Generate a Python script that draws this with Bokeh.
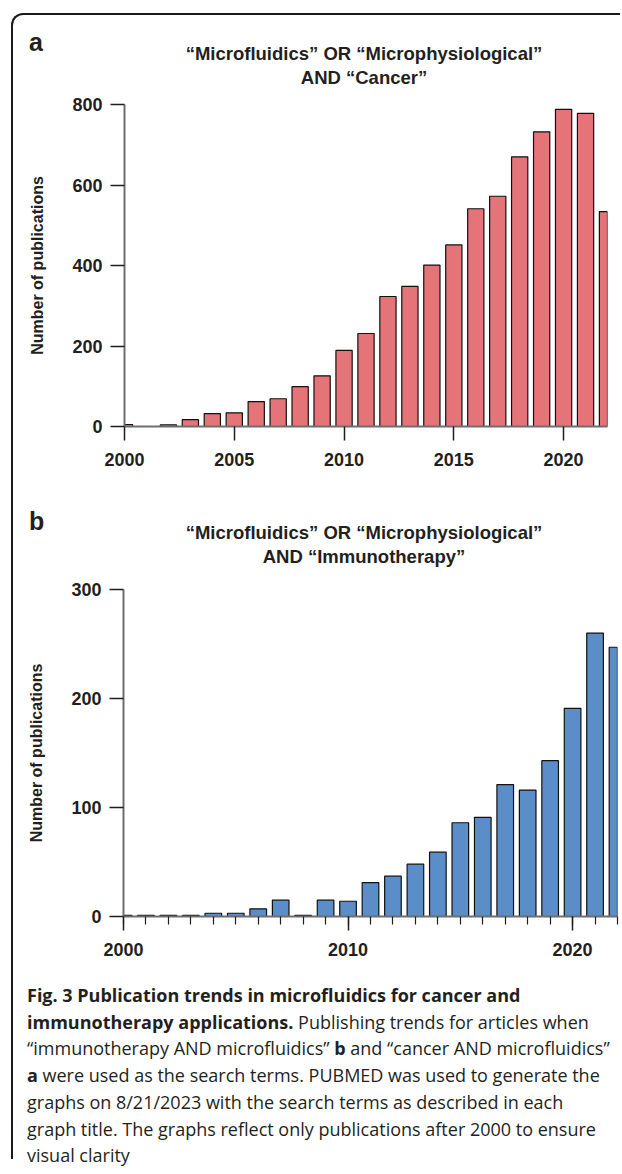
from bokeh.plotting import figure
from bokeh.models import Range1d, Div, FixedTicker
from bokeh.layouts import column
from bokeh.embed import file_html
from bokeh.resources import INLINE

# ---------------- data ----------------
years = list(range(2000, 2023))
cancer_counts = [5, 0, 4, 17, 32, 34, 62, 69, 99, 126, 189, 231, 323, 348, 401,
                 451, 541, 572, 670, 732, 788, 778, 534]
immuno_counts = [1, 1, 1, 1, 3, 3, 7, 15, 1, 15, 14, 31, 37, 48, 59,
                 86, 91, 121, 116, 143, 191, 260, 247]
a_xticks = [2000, 2005, 2010, 2015, 2020]
a_yticks = [0, 200, 400, 600, 800]
b_xticks = [2000, 2010, 2020]
b_yticks = [0, 100, 200, 300]
title_a = ["\u201cMicrofluidics\u201d OR \u201cMicrophysiological\u201d", "AND \u201cCancer\u201d"]
title_b = ["\u201cMicrofluidics\u201d OR \u201cMicrophysiological\u201d", "AND \u201cImmunotherapy\u201d"]
ylabel = "Number of publications"

FONT = "Liberation Sans"
RED = "#E57478"
BLUE = "#5B8EC8"
INK = "#231f20"


def style_axes(p):
    for ax in (p.xaxis[0], p.yaxis[0]):
        ax.axis_line_color = "#6e6e6e"
        ax.axis_line_width = 2
        ax.major_tick_line_color = "#1e1e1e"
        ax.major_tick_line_width = 1.5
        ax.major_tick_out = 14
        ax.major_tick_in = 0
        ax.major_label_text_font = FONT
        ax.major_label_text_font_style = "bold"
        ax.major_label_text_font_size = "18px"
        ax.major_label_text_color = INK
    p.yaxis[0].minor_tick_line_color = None
    p.yaxis[0].major_label_standoff = 8
    p.xaxis[0].major_label_standoff = 12
    p.yaxis[0].axis_label = ylabel
    p.yaxis[0].axis_label_text_font = FONT
    p.yaxis[0].axis_label_text_font_style = "bold"
    p.yaxis[0].axis_label_text_font_size = "16px"
    p.yaxis[0].axis_label_text_color = INK
    p.yaxis[0].axis_label_standoff = 23
    p.xgrid.grid_line_color = None
    p.ygrid.grid_line_color = None
    p.outline_line_color = None


def header(letter, lines, h, letter_top, line_top):
    html = (
        f'<div style="position:relative;width:607px;height:{h}px;'
        f'font-family:\'Liberation Sans\',Arial,sans-serif;font-weight:bold;color:{INK};">'
        f'<div style="position:absolute;left:16px;top:{letter_top}px;font-size:25px;'
        f'line-height:25px;">{letter}</div>'
        f'<div style="position:absolute;left:51px;top:{line_top}px;width:600px;text-align:center;'
        f'font-size:18.5px;line-height:24px;white-space:nowrap;">{lines[0]}<br>{lines[1]}</div>'
        f'</div>'
    )
    return Div(text=html, width=607, height=h, margin=0)


# ---------------- chart a ----------------
head_a = header("a", title_a, 79, 15, 27)
pa = figure(width=607, height=395, x_range=Range1d(2000, 2022), y_range=Range1d(0, 800),
            output_backend="svg", toolbar_location=None,
            min_border_left=111, min_border_right=13, min_border_top=10, min_border_bottom=63)
pa.vbar(x=years, top=cancer_counts, width=0.74, fill_color=RED, line_color="#111111", line_width=1.2)
style_axes(pa)
pa.xaxis[0].ticker = FixedTicker(ticks=a_xticks)
pa.yaxis[0].ticker = FixedTicker(ticks=a_yticks)

# ---------------- chart b ----------------
head_b = header("b", title_b, 90, 20, 32)
pb = figure(width=607, height=390, x_range=Range1d(2000, 2022), y_range=Range1d(0, 300),
            output_backend="svg", toolbar_location=None,
            min_border_left=110, min_border_right=3, min_border_top=10, min_border_bottom=53)
pb.vbar(x=years, top=immuno_counts, width=0.74, fill_color=BLUE, line_color="#111111", line_width=1.2)
style_axes(pb)
pb.xaxis[0].ticker = FixedTicker(ticks=b_xticks, minor_ticks=years)
pb.xaxis[0].minor_tick_line_color = "#1e1e1e"
pb.xaxis[0].minor_tick_line_width = 1.2
pb.xaxis[0].minor_tick_out = 8
pb.xaxis[0].minor_tick_in = 0
pb.yaxis[0].ticker = FixedTicker(ticks=b_yticks)

# ---------------- caption ----------------
cap_html = (
    '<div style="font-family:\'Open Sans\'; font-size:18px; line-height:26.7px; color:#231f20;'
    ' white-space:nowrap; padding:13px 0 0 14px;">'
    '<b>Fig. 3 Publication trends in microfluidics for cancer and</b><br>'
    '<b>immunotherapy applications.</b> Publishing trends for articles when<br>'
    '\u201cimmunotherapy AND microfluidics\u201d <b>b</b> and \u201ccancer AND microfluidics\u201d<br>'
    '<b>a</b> were used as the search terms. PUBMED was used to generate the<br>'
    'graphs on 8/21/2023 with the search terms as described in each<br>'
    'graph title. The graphs reflect only publications after 2000 to ensure<br>'
    'visual clarity</div>'
)
cap = Div(text=cap_html, width=607, height=190, margin=0)

layout = column(head_a, column(pa), head_b, column(pb), cap, spacing=0,
                styles={"border-left": "2px solid #1a1a1a", "border-top": "2px solid #1a1a1a",
                        "border-top-left-radius": "12px",
                        "margin-left": "11px", "margin-top": "13px"})

open("out.html", "w").write(file_html(layout, INLINE))
